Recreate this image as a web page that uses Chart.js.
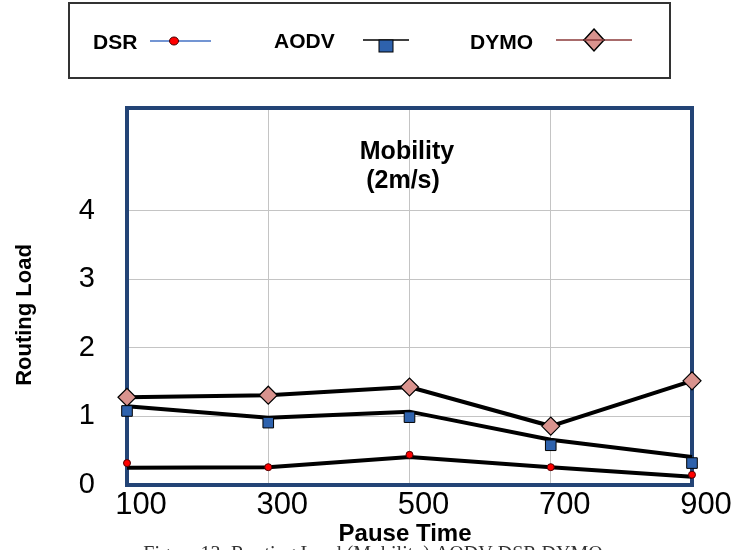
<!DOCTYPE html>
<html>
<head>
<meta charset="utf-8">
<script src="https://cdn.jsdelivr.net/npm/chart.js@4.4.1/dist/chart.umd.min.js"></script>
<style>
    body { margin: 0; background: #fff; }
</style>
</head>
<body>
<canvas id="routingLoadChart" width="738" height="550"></canvas>
<script>
// Pause time (x) and routing load values
const pauseTimes = [100, 300, 500, 700, 900];
const xTicks = [100, 300, 500, 700, 900];
const yTicks = [0, 1, 2, 3, 4];

// the black lines sit a little off the markers in the original, so keep both
const dsrLine = [0.25, 0.26, 0.41, 0.26, 0.12];
const dsrPoints = [0.32, 0.26, 0.44, 0.26, 0.15];
const aodvLine = [1.15, 0.98, 1.07, 0.66, 0.41];
const aodvPoints = [1.08, 0.91, 0.99, 0.58, 0.32];
const dymoLine = [1.28, 1.31, 1.43, 0.86, 1.52];
const dymoPoints = [1.28, 1.31, 1.43, 0.86, 1.52];

const seriesNames = ['DSR', 'AODV', 'DYMO'];

function toXY(values) {
    return pauseTimes.map((t, i) => ({ x: t, y: values[i] }));
}

function lineSet(label, values) {
    return {
        label: label + ' line',
        data: toXY(values),
        borderColor: '#000',
        borderWidth: 4,
        pointRadius: 0,
        tension: 0,
        clip: false,
        order: 2
    };
}

function markSet(label, values, style) {
    return Object.assign({
        label: label,
        data: toXY(values),
        showLine: false,
        clip: false,
        order: 1
    }, style);
}

/**
 * Draws the framed legend, the plot border and the loose texts
 */
const figureDecor = {
    id: 'figureDecor',
    beforeDatasetsDraw(chart) {
        const a = chart.chartArea;
        const ctx = chart.ctx;
        ctx.save();
        ctx.strokeStyle = '#234476';
        ctx.lineWidth = 4;
        ctx.strokeRect(a.left, a.top, a.right - a.left, a.bottom - a.top);
        ctx.restore();
    },
    afterDraw(chart) {
        const ctx = chart.ctx;
        ctx.save();

        // legend box
        ctx.strokeStyle = '#333';
        ctx.lineWidth = 2;
        ctx.strokeRect(69, 3, 601, 75);

        ctx.fillStyle = '#000';
        ctx.font = "bold 21px 'Liberation Sans', Arial, sans-serif";
        ctx.textBaseline = 'middle';
        ctx.textAlign = 'left';
        ctx.fillText(seriesNames[0], 93, 43);
        ctx.fillText(seriesNames[1], 274, 42);
        ctx.fillText(seriesNames[2], 470, 43);

        // DSR sample
        ctx.strokeStyle = '#4472c4';
        ctx.lineWidth = 1.5;
        ctx.beginPath();
        ctx.moveTo(150, 41);
        ctx.lineTo(211, 41);
        ctx.stroke();
        ctx.fillStyle = '#ff0000';
        ctx.strokeStyle = '#400000';
        ctx.lineWidth = 1;
        ctx.beginPath();
        ctx.ellipse(174, 41, 4.5, 4, 0, 0, Math.PI * 2);
        ctx.fill();
        ctx.stroke();

        // AODV sample
        ctx.strokeStyle = '#000';
        ctx.lineWidth = 1.5;
        ctx.beginPath();
        ctx.moveTo(363, 40);
        ctx.lineTo(409, 40);
        ctx.stroke();
        ctx.fillStyle = '#2e62ad';
        ctx.lineWidth = 1;
        ctx.fillRect(379, 40, 14, 12);
        ctx.strokeRect(379, 40, 14, 12);

        // DYMO sample
        ctx.strokeStyle = '#8b3a3a';
        ctx.lineWidth = 1.5;
        ctx.beginPath();
        ctx.moveTo(556, 40);
        ctx.lineTo(632, 40);
        ctx.stroke();
        ctx.fillStyle = '#d9938e';
        ctx.strokeStyle = '#000';
        ctx.lineWidth = 1.5;
        ctx.beginPath();
        ctx.moveTo(594, 29);
        ctx.lineTo(604, 40);
        ctx.lineTo(594, 51);
        ctx.lineTo(584, 40);
        ctx.closePath();
        ctx.fill();
        ctx.stroke();
        ctx.strokeStyle = '#8b3a3a';
        ctx.beginPath();
        ctx.moveTo(584, 40);
        ctx.lineTo(604, 40);
        ctx.stroke();

        // title inside the plot
        ctx.fillStyle = '#000';
        ctx.textAlign = 'center';
        ctx.font = "bold 25px 'Liberation Sans', Arial, sans-serif";
        ctx.fillText('Mobility', 407, 152);
        ctx.fillText('(2m/s)', 403, 181);

        // axis titles
        ctx.font = "bold 24px 'Liberation Sans', Arial, sans-serif";
        ctx.fillText('Pause Time', 405, 534);

        ctx.save();
        ctx.translate(25, 315);
        ctx.rotate(-Math.PI / 2);
        ctx.font = "bold 22px 'Liberation Sans', Arial, sans-serif";
        ctx.fillText('Routing Load', 0, 0);
        ctx.restore();

        // caption, cut by the bottom edge
        ctx.fillStyle = '#333';
        ctx.textBaseline = 'top';
        ctx.font = "20px 'Liberation Serif', 'Times New Roman', serif";
        ctx.fillText('Figure 13: Routing Load (Mobility) AODV DSR DYMO', 373, 545);

        ctx.restore();
    }
};

document.addEventListener('DOMContentLoaded', function() {
    const ctx = document.getElementById('routingLoadChart');

    new Chart(ctx, {
        type: 'line',
        data: {
            datasets: [
                markSet('DSR', dsrPoints, {
                    pointStyle: 'circle',
                    pointRadius: 3.5,
                    pointBackgroundColor: '#ff0000',
                    pointBorderColor: '#500000',
                    pointBorderWidth: 1
                }),
                markSet('AODV', aodvPoints, {
                    pointStyle: 'rect',
                    pointRadius: 7.5,
                    pointBackgroundColor: '#2e62ad',
                    pointBorderColor: '#000',
                    pointBorderWidth: 1
                }),
                markSet('DYMO', dymoPoints, {
                    pointStyle: 'rectRot',
                    pointRadius: 9,
                    pointBackgroundColor: '#d9938e',
                    pointBorderColor: '#000',
                    pointBorderWidth: 1.2
                }),
                lineSet('DSR', dsrLine),
                lineSet('AODV', aodvLine),
                lineSet('DYMO', dymoLine)
            ]
        },
        options: {
            responsive: false,
            animation: false,
            events: [],
            layout: {
                padding: { top: 108, right: 46, bottom: 0, left: 0 }
            },
            plugins: {
                legend: { display: false },
                tooltip: { enabled: false }
            },
            scales: {
                x: {
                    type: 'linear',
                    min: 100,
                    max: 900,
                    afterFit: function(scale) { scale.height = 65; },
                    afterBuildTicks: function(scale) {
                        scale.ticks = xTicks.map(v => ({ value: v }));
                    },
                    border: { display: false },
                    grid: {
                        drawTicks: false,
                        color: function(c) {
                            const v = c.tick ? c.tick.value : 0;
                            return (v === 100 || v === 900) ? 'rgba(0,0,0,0)' : '#c4c4c4';
                        }
                    },
                    ticks: {
                        color: '#000',
                        padding: 2,
                        labelOffset: 14,
                        maxRotation: 0,
                        autoSkip: false,
                        font: { family: "'Liberation Sans', Arial, sans-serif", size: 31 }
                    }
                },
                y: {
                    min: 0,
                    max: 5.5,
                    afterFit: function(scale) { scale.width = 127; },
                    afterBuildTicks: function(scale) {
                        scale.ticks = yTicks.map(v => ({ value: v }));
                    },
                    border: { display: false },
                    grid: {
                        drawTicks: false,
                        color: function(c) {
                            const v = c.tick ? c.tick.value : 0;
                            return v === 0 ? 'rgba(0,0,0,0)' : '#c4c4c4';
                        }
                    },
                    ticks: {
                        color: '#000',
                        padding: 32,
                        font: { family: "'Liberation Sans', Arial, sans-serif", size: 29 }
                    }
                }
            }
        },
        plugins: [figureDecor]
    });
});
</script>
</body>
</html>
